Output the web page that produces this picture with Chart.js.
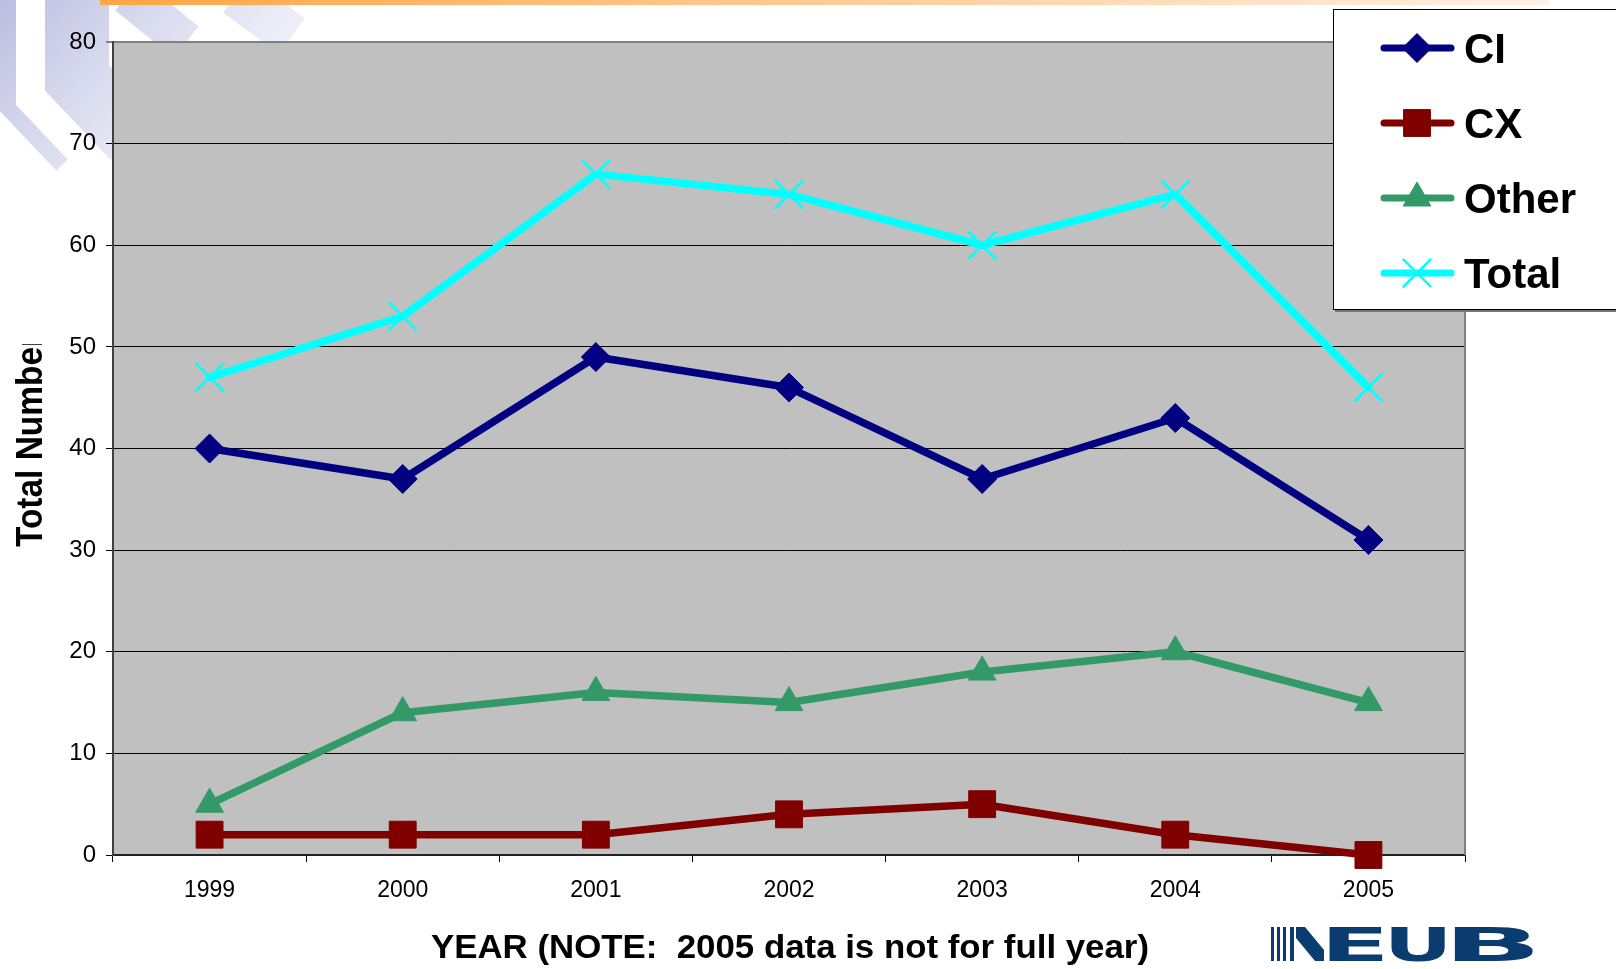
<!DOCTYPE html>
<html>
<head>
<meta charset="utf-8">
<title>Total Number by Year</title>
<script src="https://cdn.jsdelivr.net/npm/chart.js@4.4.1/dist/chart.umd.min.js"></script>
<style>
  html, body { margin: 0; padding: 0; background: #fff; overflow: hidden; }
  #chart { display: block; }
</style>
</head>
<body>
<canvas id="chart" width="1616" height="969"></canvas>
<script>
// yearly counts per category
const years = ["1999", "2000", "2001", "2002", "2003", "2004", "2005"];
const ciCounts = [40, 37, 49, 46, 37, 43, 31];
const cxCounts = [2, 2, 2, 4, 5, 2, 0];
const otherCounts = [5, 14, 16, 15, 18, 20, 15];
const totalCounts = [47, 53, 67, 65, 60, 65, 46];
const yMin = 0;
const yMax = 80;
const yStep = 10;

const FONT = "'Liberation Sans', Arial, Helvetica, sans-serif";

// faint chevron stripes in the top left corner
function drawCorner(ctx) {
  const grad = ctx.createLinearGradient(0, 0, 220, 200);
  grad.addColorStop(0, "rgba(182,186,222,0.95)");
  grad.addColorStop(1, "rgba(236,237,248,0.5)");
  ctx.strokeStyle = grad;
  ctx.lineJoin = "miter";
  ctx.lineCap = "butt";
  const stripes = [
    { w: 16, pts: [[8, -5], [8, 108], [62, 165]] },
    { w: 64, pts: [[77, -5], [77, 78], [134, 138]] },
    { w: 40, pts: [[128, -5], [186, 42]] },
    { w: 44, pts: [[236, -5], [292, 36]] },
  ];
  stripes.forEach((s) => {
    ctx.lineWidth = s.w;
    ctx.beginPath();
    s.pts.forEach((p, i) => (i ? ctx.lineTo(p[0], p[1]) : ctx.moveTo(p[0], p[1])));
    ctx.stroke();
  });
}

function drawLegend(chart) {
  const ctx = chart.ctx;
  ctx.save();
  ctx.fillStyle = "#fff";
  ctx.fillRect(1333, 9, 300, 301);
  ctx.fillStyle = "#777";
  ctx.fillRect(1335, 310, 300, 2);
  ctx.strokeStyle = "#000";
  ctx.lineWidth = 1;
  ctx.strokeRect(1333.5, 9.5, 300, 300);

  chart.data.datasets.forEach((ds, i) => {
    const y = 48 + i * 75;
    ctx.strokeStyle = ds.borderColor;
    ctx.lineWidth = 7;
    ctx.lineCap = "round";
    ctx.beginPath();
    ctx.moveTo(1384, y);
    ctx.lineTo(1451, y);
    ctx.stroke();

    ctx.fillStyle = ds.pointBackgroundColor;
    ctx.strokeStyle = ds.pointBorderColor;
    ctx.lineWidth = ds.pointBorderWidth;
    ctx.lineCap = "butt";
    Chart.helpers.drawPoint(ctx, {
      pointStyle: ds.pointStyle,
      radius: ds.pointRadius,
      borderWidth: ds.pointBorderWidth,
      rotation: 0,
    }, 1417, y);

    ctx.fillStyle = "#000";
    ctx.font = "bold 42px " + FONT;
    ctx.textAlign = "left";
    ctx.textBaseline = "alphabetic";
    ctx.fillText(ds.label, 1464, y + 15);
  });
  ctx.restore();
}

function drawTitles(chart) {
  const ctx = chart.ctx;

  // x axis title, condensed
  const xTitle = "YEAR (NOTE:  2005 data is not for full year)";
  ctx.save();
  ctx.fillStyle = "#000";
  ctx.font = "bold 34px " + FONT;
  const xw = ctx.measureText(xTitle).width;
  ctx.translate(790, 958);
  ctx.scale(718 / xw, 1);
  ctx.textAlign = "center";
  ctx.textBaseline = "alphabetic";
  ctx.fillText(xTitle, 0, 0);
  ctx.restore();

  // y axis title, its text box cuts the last letter
  ctx.save();
  ctx.beginPath();
  ctx.rect(0, 344, 90, 300);
  ctx.clip();
  ctx.fillStyle = "#000";
  ctx.font = "bold 37px " + FONT;
  const yw = ctx.measureText("Total Numbe").width;
  ctx.translate(42, 547);
  ctx.rotate(-Math.PI / 2);
  ctx.scale(200 / yw, 1);
  ctx.textAlign = "left";
  ctx.textBaseline = "alphabetic";
  ctx.fillText("Total Number", 0, 0);
  ctx.restore();
}

// each logo letter stretched so its ink fills [x0, x1]
function logoLetter(ctx, ch, x0, x1) {
  ctx.save();
  const m = ctx.measureText(ch);
  const ink = m.actualBoundingBoxLeft + m.actualBoundingBoxRight;
  const sx = (x1 - x0) / ink;
  ctx.translate(x0 + m.actualBoundingBoxLeft * sx, 961);
  ctx.scale(sx, 1);
  ctx.fillText(ch, 0, 0);
  ctx.restore();
}

function drawLogo(ctx) {
  const blue = "#0b3c6f";
  ctx.save();
  ctx.fillStyle = blue;
  [1271, 1277, 1283].forEach((x) => ctx.fillRect(x, 927, 3, 34));
  ctx.fillRect(1290, 927, 4, 34);
  ctx.beginPath();
  ctx.moveTo(1296, 927);
  ctx.lineTo(1305, 927);
  ctx.lineTo(1324, 950);
  ctx.lineTo(1324, 961);
  ctx.lineTo(1315, 961);
  ctx.lineTo(1296, 938);
  ctx.closePath();
  ctx.fill();

  ctx.font = "bold 47px 'DejaVu Sans', sans-serif";
  ctx.textAlign = "left";
  ctx.textBaseline = "alphabetic";
  logoLetter(ctx, "E", 1329, 1383);
  logoLetter(ctx, "U", 1391, 1445);
  logoLetter(ctx, "B", 1454, 1534);
  ctx.restore();
}

const pageDecor = {
  id: "pageDecor",
  beforeDraw(chart) {
    const ctx = chart.ctx;
    const area = chart.chartArea;
    ctx.save();
    ctx.fillStyle = "#fff";
    ctx.fillRect(0, 0, chart.width, chart.height);
    drawCorner(ctx);

    // orange strip along the top edge
    const bar = ctx.createLinearGradient(100, 0, 1550, 0);
    bar.addColorStop(0, "#ffa545");
    bar.addColorStop(1, "#fff1e6");
    ctx.fillStyle = bar;
    ctx.fillRect(100, 0, 1450, 5);

    // plot area background
    ctx.fillStyle = "#c0c0c0";
    ctx.fillRect(area.left, area.top, area.right - area.left, area.bottom - area.top);
    ctx.restore();
  },
  afterDraw(chart) {
    const ctx = chart.ctx;
    const area = chart.chartArea;
    ctx.save();
    ctx.strokeStyle = "#808080";
    ctx.lineWidth = 2;
    ctx.beginPath();
    ctx.moveTo(area.right, area.top);
    ctx.lineTo(area.right, area.bottom);
    ctx.stroke();
    ctx.restore();

    drawLegend(chart);
    drawTitles(chart);
    drawLogo(ctx);
  },
};

function series(label, data, color, style, radius, order, pointBorder) {
  return {
    label: label,
    data: data,
    borderColor: color,
    backgroundColor: color,
    borderWidth: 7.5,
    borderJoinStyle: "round",
    borderCapStyle: "round",
    tension: 0,
    pointStyle: style,
    pointRadius: radius,
    pointHoverRadius: radius,
    pointBackgroundColor: color,
    pointBorderColor: color,
    pointBorderWidth: pointBorder,
    order: order,
    clip: false,
  };
}

new Chart(document.getElementById("chart"), {
  type: "line",
  data: {
    labels: years,
    datasets: [
      series("CI", ciCounts, "#000080", "rectRot", 14.5, 3, 1),
      series("CX", cxCounts, "#800000", "rect", 19, 2, 1),
      series("Other", otherCounts, "#339966", "triangle", 16, 1, 1),
      series("Total", totalCounts, "#00ffff", "crossRot", 20, 0, 2.5),
    ],
  },
  options: {
    responsive: false,
    animation: false,
    events: [],
    layout: { padding: { left: 0, top: 42, right: 151, bottom: 0 } },
    plugins: {
      legend: { display: false },
      tooltip: { enabled: false },
    },
    scales: {
      x: {
        offset: true,
        grid: {
          offset: true,
          drawOnChartArea: false,
          drawTicks: true,
          tickLength: 7,
          color: "#000",
        },
        border: { color: "#222", width: 2 },
        ticks: {
          color: "#000",
          padding: 15,
          maxRotation: 0,
          font: { family: FONT, size: 23 },
        },
        afterFit(scale) {
          scale.height = 114;
        },
      },
      y: {
        min: yMin,
        max: yMax,
        ticks: {
          stepSize: yStep,
          color: "#000",
          padding: 10,
          font: { family: FONT, size: 24 },
        },
        grid: {
          tickLength: 7,
          color: (c) => (c.tick && c.tick.value === yMax ? "#808080" : "#000"),
          lineWidth: (c) => (c.tick && c.tick.value === yMax ? 2 : 1),
        },
        border: { color: "#404040", width: 2 },
        afterFit(scale) {
          scale.width = 113;
        },
      },
    },
  },
  plugins: [pageDecor],
});
</script>
</body>
</html>
